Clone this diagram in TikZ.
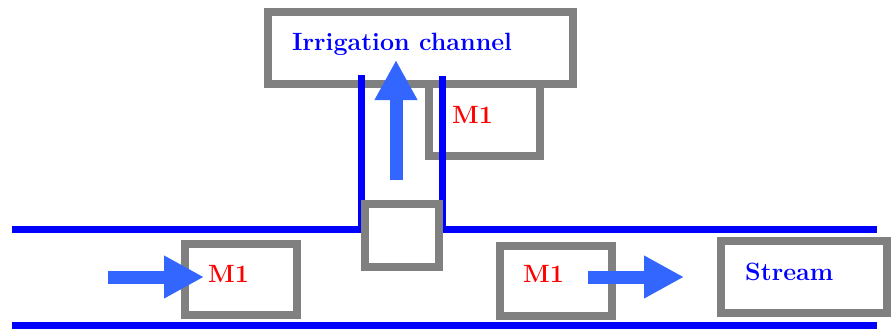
\documentclass[tikz,border=0pt]{standalone}
\usepackage{xcolor}
\usetikzlibrary{arrows.meta,positioning}
\definecolor{boxgray}{RGB}{128,128,128}
\definecolor{flowblue}{RGB}{51,102,255}
\definecolor{bankblue}{RGB}{0,0,255}

\begin{document}
\begin{tikzpicture}[x=1pt, y=-1pt,
    box/.style={draw=boxgray, line width=8pt, fill=white, rectangle, inner sep=0pt},
    bank/.style={draw=bankblue, line width=7pt},
    flow/.style={draw=flowblue, line width=13pt, -{Triangle[width=40pt, length=40pt]}},
    lbl/.style={font=\fontsize{25}{30}\selectfont\bfseries, inner sep=0pt, anchor=base west}]
\useasboundingbox (0,0) rectangle (891,330);

% boxes behind the channel banks
\node[box, minimum width=111pt, minimum height=82pt] (m1up) at (484.5,115) {};
\node[box, minimum width=305pt, minimum height=72pt] (chan) at (420.5,48) {};

% banks of the stream and of the channel
\draw[bank] (12,229) -- (361,229) -- (361,75);
\draw[bank] (442,76) -- (442,229) -- (877,229);
\draw[bank] (12,325) -- (877,325);

\node[box, minimum width=74pt, minimum height=63pt] (gate) at (402,235.5) {};
\node[box, minimum width=112pt, minimum height=71pt] (m1left) at (241,279.5) {};
\node[box, minimum width=112pt, minimum height=70pt] (m1right) at (556,281) {};
\node[box, minimum width=166pt, minimum height=72pt] (stream) at (804,277) {};

% flow arrows
\coordinate (inA) at (108,277);
\coordinate (inB) at (204,277);
\coordinate (outA) at (588,277);
\coordinate (outB) at (684,277);
\coordinate (upA) at (396,180);
\coordinate (upB) at (396,60);
\draw[flow] (inA) -- (inB);
\draw[flow] (outA) -- (outB);
\draw[flow] (upA) -- (upB);

% labels
\node[lbl, text=bankblue] (chantext) at (292,50) {Irrigation channel};
\node[lbl, text=red] (m1uptext) at (452,123) {M1};
\node[lbl, text=red] (m1lefttext) at (208,282) {M1};
\node[lbl, text=red] (m1righttext) at (523,282) {M1};
\node[lbl, text=bankblue] (streamtext) at (745,280) {Stream};
\end{tikzpicture}
\end{document}
